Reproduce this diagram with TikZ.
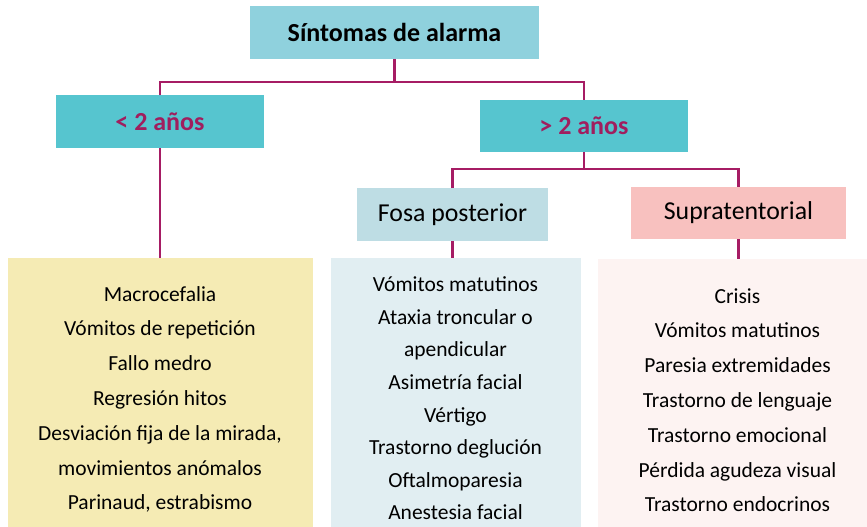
\documentclass[tikz,border=0pt]{standalone}
\usepackage{fontspec}
\setmainfont{Carlito}
\definecolor{linec}{HTML}{A61C64}
\definecolor{topc}{HTML}{8FD1DD}
\definecolor{agec}{HTML}{56C5CF}
\definecolor{agetext}{HTML}{A01E5E}
\definecolor{fosac}{HTML}{BEDDE4}
\definecolor{suprac}{HTML}{F8C1BF}
\definecolor{yelc}{HTML}{F5EBB4}
\definecolor{fosalc}{HTML}{E1EEF2}
\definecolor{supralc}{HTML}{FDF3F2}
\begin{document}
\begin{tikzpicture}[x=1pt,y=1pt,
  box/.style={rectangle, inner sep=0pt, outer sep=0pt, draw=none},
  head/.style={box, font=\fontsize{26}{30}\selectfont\bfseries},
  sub/.style={box, font=\fontsize{25.8}{30}\selectfont},
  conn/.style={draw=linec, line width=2.6pt},
  listA/.style={align=center, inner sep=0pt, text=black, font=\fontsize{21.5}{34.8}\selectfont},
  listB/.style={align=center, inner sep=0pt, text=black, font=\fontsize{21.5}{32.6}\selectfont}
]
\useasboundingbox (0,0) rectangle (867,-527);

% header boxes
\node[head, fill=topc, minimum width=289pt, minimum height=53pt] (top) at (394.5,-32.5) {Síntomas de alarma};
\node[head, fill=agec, text=agetext, minimum width=208pt, minimum height=53pt] (lt) at (160,-121.5) {< 2 años};
\node[head, fill=agec, text=agetext, minimum width=208pt, minimum height=52pt] (gt) at (584,-126) {> 2 años};
\node[sub, fill=fosac, minimum width=191pt, minimum height=53pt] (fosa) at (452.5,-214.5) {Fosa posterior};
\node[sub, fill=suprac, minimum width=215pt, minimum height=52pt] (supra) at (738.5,-213) {Supratentorial};

% content boxes
\node[box, fill=yelc, minimum width=305pt, minimum height=269pt] (ybox) at (160.5,-392.5) {};
\node[box, fill=fosalc, minimum width=250pt, minimum height=269pt] (fbox) at (456,-392.5) {};
\node[box, fill=supralc, minimum width=269pt, minimum height=268pt] (sbox) at (732.5,-393) {};

\node[listA] (ytext) at (160,-399.5) {Macrocefalia\\Vómitos de repetición\\Fallo medro\\Regresión hitos\\Desviación fija de la mirada,\\movimientos anómalos\\Parinaud, estrabismo};
\node[listB] (ftext) at (455.5,-398.5) {Vómitos matutinos\\Ataxia troncular o\\apendicular\\Asimetría facial\\Vértigo\\Trastorno deglución\\Oftalmoparesia\\Anestesia facial};
\node[listA] (stext) at (737.5,-400.2) {Crisis\\Vómitos matutinos\\Paresia extremidades\\Trastorno de lenguaje\\Trastorno emocional\\Pérdida agudeza visual\\Trastorno endocrinos};

% connectors
\coordinate (j1) at (394.5,-82);
\coordinate (j2) at (584,-169);
\draw[conn] (top.south) -- (j1);
\draw[conn] (lt.north) |- (j1) -| (gt.north);
\draw[conn] (lt.south) -- (lt.south |- ybox.north);
\draw[conn] (gt.south) -- (j2);
\draw[conn] (fosa.north) |- (j2) -| (supra.north);
\draw[conn] (fosa.south) -- (fosa.south |- fbox.north);
\draw[conn] (supra.south) -- (supra.south |- sbox.north);
\end{tikzpicture}
\end{document}
